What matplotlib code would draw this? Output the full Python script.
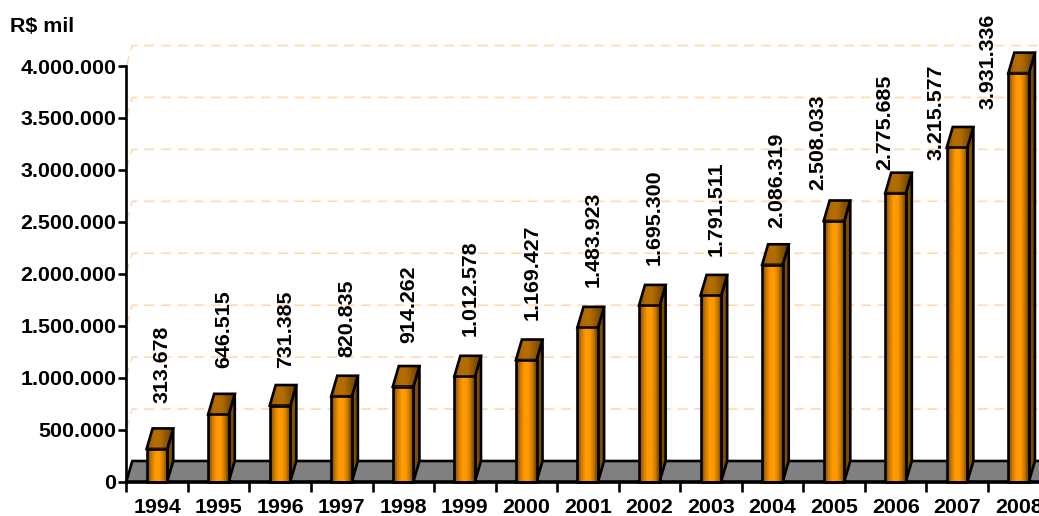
import numpy as np
import matplotlib
matplotlib.use('Agg')
import matplotlib.pyplot as plt
from matplotlib.colors import LinearSegmentedColormap
from matplotlib.patches import Polygon

years = ['1994', '1995', '1996', '1997', '1998', '1999', '2000', '2001',
         '2002', '2003', '2004', '2005', '2006', '2007', '2008']
values = [313678, 646515, 731385, 820835, 914262, 1012578, 1169427, 1483923,
          1695300, 1791511, 2086319, 2508033, 2775685, 3215577, 3931336]
value_labels = ['313.678', '646.515', '731.385', '820.835', '914.262', '1.012.578',
                '1.169.427', '1.483.923', '1.695.300', '1.791.511', '2.086.319',
                '2.508.033', '2.775.685', '3.215.577', '3.931.336']
y_ticks = [0, 500000, 1000000, 1500000, 2000000, 2500000, 3000000, 3500000, 4000000]
y_tick_labels = ['0', '500.000', '1.000.000', '1.500.000', '2.000.000', '2.500.000',
                 '3.000.000', '3.500.000', '4.000.000']

# hand placed labels in the original: offset from the bar, in pixels
label_dx = [5, 5, 5, 5, 5, 5, 6, 5, 5, 5, 4, -16, -11, -21, -31]
label_gap = [25, 26, 17, 19, 23, 20, 20, 20, 20, 19, 16, 10, 3, -33, -56]

plt.rcParams['font.family'] = ['Liberation Sans', 'DejaVu Sans']
plt.rcParams['font.weight'] = 'bold'
plt.rcParams['font.size'] = 15.4

W, H = 1039, 516
PX_X = 61.55
PX_Y = 415.5 / 4000000
x0, y0 = 126.3, 481.5
bar_left, bar_w = 0.33, 0.335
depth_x, depth_y = 6 / PX_X, 20.5 / PX_Y
LW = 1.9

fig = plt.figure(figsize=(W / 100, H / 100), dpi=100)
ax = fig.add_axes([x0 / W, (H - y0) / H, PX_X * 15 / W, 415.5 / H])
ax.set_xlim(0, 15)
ax.set_ylim(0, 4000000)
ax.patch.set_visible(False)

front_cmap = LinearSegmentedColormap.from_list('front', ['#6e4200', '#c97900', '#ff9900', '#ff9900', '#c97900', '#5c3700'])
top_cmap = LinearSegmentedColormap.from_list('top', ['#8a5300', '#b36c00', '#b36c00', '#8a5300', '#663d00'])
grad = np.linspace(0, 1, 64).reshape(1, -1)

# back wall grid
for v in y_ticks[1:]:
    ax.plot([0, depth_x, 15], [v, v + depth_y, v + depth_y], color='#ffd9b0', lw=1.2,
            dashes=(6, 4), clip_on=False, zorder=1)

# floor
ax.add_patch(Polygon([(0, 0), (depth_x, depth_y), (15.5, depth_y), (15.5, 0)], closed=True,
                     facecolor='#808080', edgecolor='black', lw=LW, clip_on=False, zorder=2))

for i, v in enumerate(values):
    l = i + bar_left
    r = l + bar_w
    z = 3 + i * 0.01
    # side face
    ax.add_patch(Polygon([(r, 0), (r + depth_x, depth_y), (r + depth_x, v + depth_y), (r, v)], closed=True,
                         facecolor='#7f4c00', edgecolor='black', lw=LW, clip_on=False, zorder=z))
    # top face
    top = Polygon([(l, v), (l + depth_x, v + depth_y), (r + depth_x, v + depth_y), (r, v)], closed=True,
                  facecolor='none', edgecolor='black', lw=LW, clip_on=False, zorder=z + 0.002)
    ax.add_patch(top)
    im = ax.imshow(grad, cmap=top_cmap, extent=(l, r + depth_x, v, v + depth_y), aspect='auto', zorder=z + 0.001)
    im.set_clip_box(fig.bbox)  # 2008 goes above the axes
    im.set_clip_path(top)
    # front face
    ax.imshow(grad, cmap=front_cmap, extent=(l, r, 0, v), aspect='auto', zorder=z + 0.003)
    ax.add_patch(Polygon([(l, 0), (l, v), (r, v), (r, 0)], closed=True, facecolor='none',
                         edgecolor='black', lw=LW, clip_on=False, zorder=z + 0.004))
    # value label, measured from the back edge of the top face
    ax.annotate(value_labels[i], xy=(i + 0.5, v + depth_y),
                xytext=(label_dx[i], label_gap[i]), textcoords='offset pixels',
                rotation=90, ha='center', va='bottom', annotation_clip=False, zorder=10)

ax.set_xlim(0, 15)
ax.set_ylim(0, 4000000)

for side in ['top', 'right']:
    ax.spines[side].set_visible(False)
for side in ['left', 'bottom']:
    ax.spines[side].set_linewidth(LW)
    ax.spines[side].set_zorder(9)

ax.set_yticks(y_ticks)
ax.set_yticklabels(y_tick_labels)
ax.set_xticks(range(16))
ax.set_xticklabels([])
ax.set_xticks(np.arange(15) + 0.5, minor=True)
ax.set_xticklabels(years, minor=True)
ax.tick_params(axis='y', length=6, width=LW, pad=1)
ax.tick_params(axis='x', which='major', length=7, width=LW)
ax.tick_params(axis='x', which='minor', length=0, pad=12)

fig.text(10 / W, 1 - 26 / H, 'R$ mil', ha='left', va='center')

fig.savefig('out.png', dpi=100)
